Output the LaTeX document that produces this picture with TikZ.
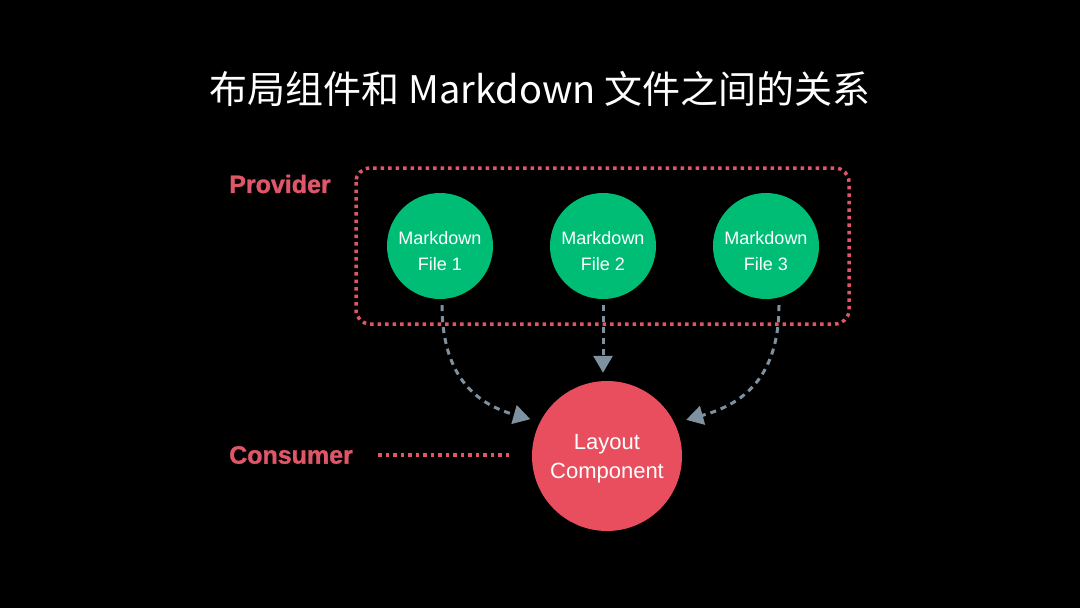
\documentclass[tikz,border=0pt]{standalone}
\usepackage{fontspec}
\setmainfont{Liberation Sans}
\newfontfamily\cjk{Noto Sans CJK SC}
\usetikzlibrary{arrows.meta}

\definecolor{mdgreen}{RGB}{0,189,118}
\definecolor{layoutred}{RGB}{232,78,94}
\definecolor{rolepink}{RGB}{224,86,105}
\definecolor{flowgray}{RGB}{125,145,160}

\begin{document}
\begin{tikzpicture}[x=1pt, y=-1pt,
  mdfile/.style={circle, fill=mdgreen, minimum size=106pt, inner sep=0pt,
    label={[text=white, align=center, yshift=-5pt,
      font=\fontsize{18}{26}\selectfont]center:#1}},
  rolelabel/.style={text=rolepink,
    font=\fontsize{25}{28}\selectfont\bfseries\addfontfeatures{FakeBold=1.2}},
  flow/.style={flowgray, line width=3pt, dash pattern=on 6pt off 5pt,
    -{Triangle[width=19pt, length=17pt]}},
  rolelink/.style={rolepink, line width=3.5pt, dash pattern=on 3.5pt off 4pt}]
  % Background
  \fill[black] (0,0) rectangle (1080,608);
  % Title
  \node[text=white, font=\cjk\fontsize{38}{44}\selectfont] (title) at (540,89)
    {布局组件和 Markdown 文件之间的关系};
  % Provider box
  \draw[rolelink, rounded corners=14pt] (356,168) rectangle (849,324);
  \node[rolelabel] (provider) at (280,184) {Provider};
  % Markdown files
  \node[mdfile={Markdown\\File 1}] (file1) at (440,246) {};
  \node[mdfile={Markdown\\File 2}] (file2) at (603,246) {};
  \node[mdfile={Markdown\\File 3}] (file3) at (766,246) {};
  % Layout component
  \node[circle, fill=layoutred, minimum size=150pt, inner sep=0pt,
    label={[text=white, align=center, yshift=-3pt,
      font=\fontsize{22}{29}\selectfont]center:Layout\\Component}]
    (layout) at (607,456) {};
  \node[rolelabel] (consumer) at (291,455) {Consumer};
  \draw[rolelink] ([xshift=22pt]consumer.east) -- ([xshift=-19pt]layout.west |- consumer.east);
  % Flows
  \draw[flow, shorten <=6pt, shorten >=10pt] ([xshift=2pt]file1.south)
    .. controls (442,380) and (480,405) .. (layout.153);
  \draw[flow, shorten <=6pt, shorten >=8pt] (file2.south) -- (layout.north -| file2.south);
  \draw[flow, shorten <=6pt, shorten >=12pt] ([xshift=13pt]file3.south)
    .. controls (779,380) and (740,405) .. (layout.26);
\end{tikzpicture}
\end{document}
